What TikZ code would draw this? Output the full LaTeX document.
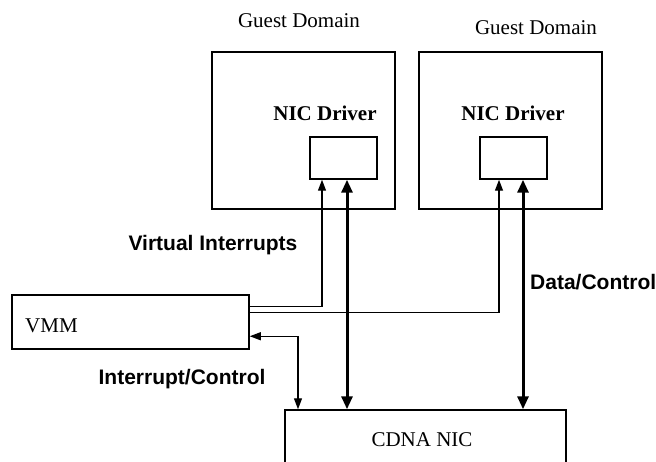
\documentclass[tikz,border=0pt]{standalone}
\usepackage{fontspec}
\setmainfont{Liberation Serif}
\newfontfamily\labelsans{Liberation Sans}
\usetikzlibrary{arrows.meta}

\tikzset{
  box/.style={draw, line width=1.5pt, inner sep=0pt, fill=none},
  serif/.style={font=\fontsize{21}{24}\selectfont, inner sep=0pt},
  serifbold/.style={font=\fontsize{21}{24}\selectfont\bfseries, inner sep=0pt},
  sanslabel/.style={font=\fontsize{21}{24}\selectfont\labelsans\bfseries, inner sep=0pt},
  thinlink/.style={line width=1.3pt, {Triangle[length=11pt, width=8pt]}-{Triangle[length=11pt, width=8pt]}},
  thicklink/.style={line width=3pt, {Triangle[length=13pt, width=11pt]}-{Triangle[length=13pt, width=11pt]}},
  vilink/.style={line width=1.3pt, -{Triangle[length=11pt, width=8pt]}}
}

\begin{document}
\begin{tikzpicture}[x=1pt, y=-1pt]
  \useasboundingbox (0,0) rectangle (656,462);

  % guest domains with their driver boxes
  \node[box, minimum width=183pt, minimum height=157pt] (gd1) at (303.5,130.5) {};
  \node[box, minimum width=183pt, minimum height=157pt] (gd2) at (510.5,130.5) {};
  \node[serif] (gdl1) at (299,21) {Guest Domain};
  \node[serif] (gdl2) at (536,28) {Guest Domain};
  \node[serifbold] (nd1) at (325,113) {NIC Driver};
  \node[serifbold] (nd2) at (513,113) {NIC Driver};
  \node[box, minimum width=67pt, minimum height=42pt] (drv1) at (343.5,158) {};
  \node[box, minimum width=67pt, minimum height=42pt] (drv2) at (513.5,158) {};

  % hypervisor and the shared device
  \node[box, minimum width=237pt, minimum height=54pt] (vmm) at (130.5,322) {};
  \node[serif, anchor=west] (vmmt) at (25,326) {VMM};
  \node[box, minimum width=281pt, minimum height=80pt] (cdna) at (425.5,450) {};
  \node[serif] (cdnat) at (422,440) {CDNA NIC};

  % virtual interrupt paths
  \draw[vilink] ([yshift=-12pt]vmm.north east) -| ([xshift=-21.5pt]drv1.south);
  \draw[vilink] ([yshift=-18pt]vmm.north east) -| ([xshift=-14.5pt]drv2.south);

  % data paths between drivers and the NIC
  \draw[thicklink] ([xshift=3.5pt]drv1.south) -- ([xshift=3.5pt]drv1.south |- cdna.north);
  \draw[thicklink] ([xshift=9.5pt]drv2.south) -- ([xshift=9.5pt]drv2.south |- cdna.north);

  % interrupt / control path
  \draw[thinlink] ([yshift=-42pt]vmm.north east) -| ([xshift=-127.5pt]cdna.north);

  % labels
  \node[sanslabel] (vil) at (213,245) {Virtual Interrupts};
  \node[sanslabel] (icl) at (182,379) {Interrupt/Control};
  \node[sanslabel, anchor=west] (dcl) at (530,282) {Data/Control};
\end{tikzpicture}
\end{document}
